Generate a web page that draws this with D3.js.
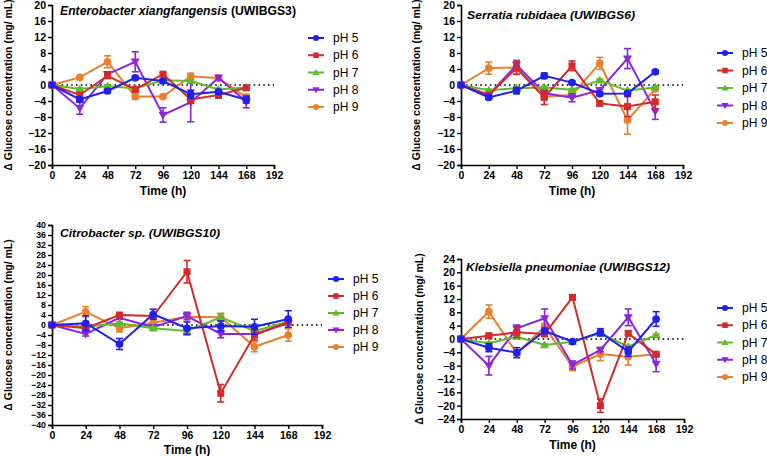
<!DOCTYPE html>
<html>
<head>
<meta charset="utf-8">
<script src="https://cdn.jsdelivr.net/npm/d3@7"></script>
<style>
html,body{margin:0;padding:0;background:#fff;}
svg{display:block;font-family:"Liberation Sans",Arial,sans-serif;}
</style>
</head>
<body>
<svg id="chart" width="767" height="456"></svg>
<script>
// ---------------- DATA ----------------
const times = [0, 24, 48, 72, 96, 120, 144, 168];
const xTicks = [0, 24, 48, 72, 96, 120, 144, 168, 192];
const seriesNames = ["pH 5", "pH 6", "pH 7", "pH 8", "pH 9"];
const seriesColors = ["#1f1ff2", "#d42a2a", "#5fbb2c", "#8c25e0", "#e8802e"];
const seriesShapes = ["circle", "square", "triangle", "triangleDown", "circle"];

// Enterobacter xiangfangensis (UWIBGS3)
const enteroMeans = [
  [0, -3.6, -1.5, 1.8, 1.0, -2.3, -1.7, -3.7],
  [0, -2.5, 2.3, -1.1, 2.7, -3.6, -2.5, -0.7],
  [0, -1.0, -0.3, -0.8, 1.2, 1.0, -1.1, -0.6],
  [0, -5.8, 2.7, 5.8, -7.5, -4.3, 1.8, -4.2],
  [0, 1.9, 5.8, -2.9, -2.9, 2.2, 1.7, -3.1]
];
const enteroErr = [
  [0, 0.5, 0.4, 0.4, 0.4, 1.0, 0.5, 0.8],
  [0, 0.5, 0.6, 0.5, 0.4, 1.0, 0.8, 0.3],
  [0, 0.3, 0.3, 0.3, 0.3, 0.3, 0.3, 0.3],
  [0, 1.5, 0.5, 2.5, 1.8, 4.9, 0.5, 1.5],
  [0, 0.3, 1.5, 0.7, 0.3, 0.7, 0.3, 0.8]
];

// Serratia rubidaea (UWIBGS6)
const serratiaMeans = [
  [0, -3.1, -1.4, 2.3, 0.6, -2.2, -2.1, 3.3],
  [0, -2.5, 4.2, -3.1, 4.8, -4.6, -5.4, -4.2],
  [0, -1.3, -0.8, -0.6, -1.2, 1.2, -1.4, -0.6],
  [0, -2.5, 5.0, -2.0, -3.2, -1.3, 6.6, -6.6],
  [0, 4.2, 4.4, -2.9, -2.5, 5.4, -8.8, -1.0]
];
const serratiaErr = [
  [0, 0.4, 0.8, 0.7, 0.4, 0.4, 0.4, 0.4],
  [0, 0.4, 1.5, 1.8, 1.2, 0.4, 2.5, 1.7],
  [0, 0.3, 0.3, 0.3, 0.3, 0.3, 0.3, 0.3],
  [0, 0.4, 1.0, 0.4, 1.0, 0.4, 2.5, 2.0],
  [0, 1.5, 1.8, 0.4, 0.5, 1.5, 3.5, 0.4]
];

// Citrobacter sp. (UWIBGS10)
const citroMeans = [
  [0, 0.7, -7.6, 4.3, -1.3, -0.4, -0.7, 2.4],
  [0, -1.3, 4.0, 3.6, 21.3, -27.3, -4.0, 1.1],
  [0, -0.7, 0.7, -1.3, -2.4, 3.1, -2.4, 1.3],
  [0, -3.6, 2.9, -0.9, 3.6, -3.6, -3.6, 0.7],
  [0, 5.3, -1.3, 0.9, 3.3, 3.1, -8.7, -4.0]
];
const citroErr = [
  [0, 3.0, 2.2, 2.0, 2.5, 2.0, 3.0, 3.3],
  [0, 0.5, 0.6, 0.6, 4.5, 3.5, 2.0, 0.6],
  [0, 0.5, 0.5, 0.6, 1.5, 1.5, 0.6, 0.6],
  [0, 0.8, 0.6, 0.5, 1.5, 1.5, 0.6, 0.6],
  [0, 2.0, 1.5, 0.5, 0.6, 1.5, 2.0, 2.5]
];

// Klebsiella pneumoniae (UWIBGS12)
const klebsMeans = [
  [0, -2.6, -4.1, 2.4, -0.8, 2.0, -3.8, 6.0],
  [0, 1.0, 2.0, 1.5, 12.5, -20.0, 1.7, -4.6],
  [0, -1.3, 0.7, -1.8, -0.8, 1.7, -2.3, 1.2],
  [0, -8.0, 3.2, 6.2, -7.8, -3.3, 6.5, -7.5],
  [0, 8.2, -4.3, 3.7, -8.3, -4.5, -5.3, -4.6]
];
const klebsErr = [
  [0, 1.2, 1.5, 0.6, 0.4, 1.1, 1.4, 2.2],
  [0, 0.4, 1.5, 0.4, 0.4, 2.0, 0.6, 0.5],
  [0, 0.3, 0.3, 0.3, 0.3, 0.3, 0.3, 0.3],
  [0, 2.8, 1.0, 2.8, 1.2, 0.5, 2.5, 2.3],
  [0, 2.0, 0.6, 1.0, 1.2, 2.0, 2.5, 0.6]
];

// ---------------- LAYOUT ----------------
const panels = [
  { title: [["Enterobacter xiangfangensis", "italic"], [" (UWIBGS3)", "normal"]],
    means: enteroMeans, errs: enteroErr, yDomain: [-20, 20], yStep: 4, yFont: 10.5,
    x0: 52, x1: 274, yTop: 5, yBot: 165, titleX: 60, titleY: 15, titleW: 236, titleFont: 12,
    yTitleX: 8, timeY: 195, legX: 308, legY: 38, legDy: 17.25 },
  { title: [["Serratia rubidaea (UWIBGS6)", "italic"]],
    means: serratiaMeans, errs: serratiaErr, yDomain: [-20, 20], yStep: 4, yFont: 10.5,
    x0: 461, x1: 683, yTop: 5, yBot: 165, titleX: 467, titleY: 19, titleW: 168, titleFont: 11.5,
    yTitleX: 416, timeY: 195, legX: 717, legY: 53, legDy: 17.5 },
  { title: [["Citrobacter sp. (UWIBGS10)", "italic"]],
    means: citroMeans, errs: citroErr, yDomain: [-40, 40], yStep: 4, yFont: 8.8,
    x0: 52, x1: 322, yTop: 225, yBot: 425, titleX: 60, titleY: 237, titleW: 160, titleFont: 11.5,
    yTitleX: 8, timeY: 454, legX: 328, legY: 279, legDy: 17 },
  { title: [["Klebsiella pneumoniae (UWIBGS12)", "italic"]],
    means: klebsMeans, errs: klebsErr, yDomain: [-24, 24], yStep: 4, yFont: 10.5,
    x0: 461, x1: 684, yTop: 259, yBot: 419, titleX: 466, titleY: 271, titleW: 204, titleFont: 11.5,
    yTitleX: 419, timeY: 449, legX: 717, legY: 308, legDy: 17.25 }
];

const svg = d3.select("#chart");

function drawMarker(g, shape, cx, cy, color, size) {
  if (shape === "circle") {
    g.append("circle").attr("cx", cx).attr("cy", cy).attr("r", size * 0.55).attr("fill", color);
  } else if (shape === "square") {
    const s = size * 1.0;
    g.append("rect").attr("x", cx - s / 2).attr("y", cy - s / 2).attr("width", s).attr("height", s).attr("fill", color);
  } else if (shape === "triangle") {
    const s = size * 0.65;
    g.append("path").attr("d", `M${cx},${cy - s}L${cx + s},${cy + s * 0.7}L${cx - s},${cy + s * 0.7}Z`).attr("fill", color);
  } else if (shape === "triangleDown") {
    const s = size * 0.65;
    g.append("path").attr("d", `M${cx},${cy + s}L${cx + s},${cy - s * 0.7}L${cx - s},${cy - s * 0.7}Z`).attr("fill", color);
  }
}

panels.forEach(p => {
  const g = svg.append("g");
  const x = d3.scaleLinear().domain([0, 192]).range([p.x0, p.x1]);
  const y = d3.scaleLinear().domain(p.yDomain).range([p.yBot, p.yTop]);
  const yTicks = d3.range(p.yDomain[0], p.yDomain[1] + 0.001, p.yStep);

  // zero dotted line
  g.append("line")
    .attr("x1", x(0)).attr("x2", x(192)).attr("y1", y(0)).attr("y2", y(0))
    .attr("stroke", "#000").attr("stroke-width", 1.6).attr("stroke-dasharray", "1.6,3.2");

  // axes
  const yAxis = g.append("g").attr("transform", `translate(${p.x0},0)`)
    .call(d3.axisLeft(y).tickValues(yTicks).tickSize(4).tickPadding(2)
      .tickFormat(d => d < 0 ? "\u2212" + Math.abs(d) : String(d)));
  const xAxis = g.append("g").attr("transform", `translate(0,${p.yBot})`)
    .call(d3.axisBottom(x).tickValues(xTicks).tickSize(4).tickPadding(3).tickFormat(d3.format("d")));
  [yAxis, xAxis].forEach(a => {
    a.select(".domain").attr("stroke", "#000").attr("stroke-width", 1.6);
    a.selectAll(".tick line").attr("stroke", "#000").attr("stroke-width", 1.4);
    a.selectAll(".tick text").attr("fill", "#000").attr("font-weight", "bold")
      .attr("font-family", "Liberation Sans, Arial, sans-serif");
  });
  xAxis.selectAll(".tick text").attr("font-size", "10.5px");
  yAxis.selectAll(".tick text").attr("font-size", p.yFont + "px");

  // axis titles
  g.append("text")
    .attr("x", (p.x0 + p.x1) / 2).attr("y", p.timeY)
    .attr("text-anchor", "middle").attr("font-size", "12px").attr("font-weight", "bold")
    .text("Time (h)");
  g.append("text")
    .attr("transform", `translate(${p.yTitleX},${(p.yTop + p.yBot) / 2}) rotate(-90)`)
    .attr("text-anchor", "middle").attr("dy", "0.35em")
    .attr("font-size", "10.5px").attr("font-weight", "bold")
    .text("\u0394 Glucose concentration (mg/ mL)");

  // panel title
  const t = g.append("text").attr("x", p.titleX).attr("y", p.titleY)
    .attr("font-size", p.titleFont + "px").attr("font-weight", "bold")
    .attr("textLength", p.titleW).attr("lengthAdjust", "spacingAndGlyphs");
  p.title.forEach(([s, st]) => t.append("tspan").attr("font-style", st).text(s));

  // series (draw last series first so pH 5 ends up on top)
  const line = d3.line().x(d => x(d[0])).y(d => y(d[1]));
  for (let si = seriesNames.length - 1; si >= 0; si--) {
    const color = seriesColors[si];
    const pts = times.map((tm, i) => [tm, p.means[si][i], p.errs[si][i]]);
    const sg = g.append("g");
    sg.append("path").datum(pts).attr("d", line)
      .attr("fill", "none").attr("stroke", color).attr("stroke-width", 2);
    pts.forEach(d => {
      if (d[2] > 0) {
        const cx = x(d[0]), yt = y(d[1] + d[2]), yb = y(d[1] - d[2]);
        sg.append("line").attr("x1", cx).attr("x2", cx).attr("y1", yt).attr("y2", yb)
          .attr("stroke", color).attr("stroke-width", 1.6);
        [yt, yb].forEach(yy => sg.append("line").attr("x1", cx - 3.5).attr("x2", cx + 3.5)
          .attr("y1", yy).attr("y2", yy).attr("stroke", color).attr("stroke-width", 1.6));
      }
      drawMarker(sg, seriesShapes[si], x(d[0]), y(d[1]), color, 7);
    });
  }

  // legend
  seriesNames.forEach((name, si) => {
    const ly = p.legY + si * p.legDy;
    const color = seriesColors[si];
    g.append("line").attr("x1", p.legX).attr("x2", p.legX + 16).attr("y1", ly).attr("y2", ly)
      .attr("stroke", color).attr("stroke-width", 2);
    drawMarker(g, seriesShapes[si], p.legX + 8, ly, color, 5.5);
    g.append("text").attr("x", p.legX + 25).attr("y", ly).attr("dy", "0.35em")
      .attr("font-size", "12px").attr("fill", "#000").text(name);
  });
});
</script>
</body>
</html>
